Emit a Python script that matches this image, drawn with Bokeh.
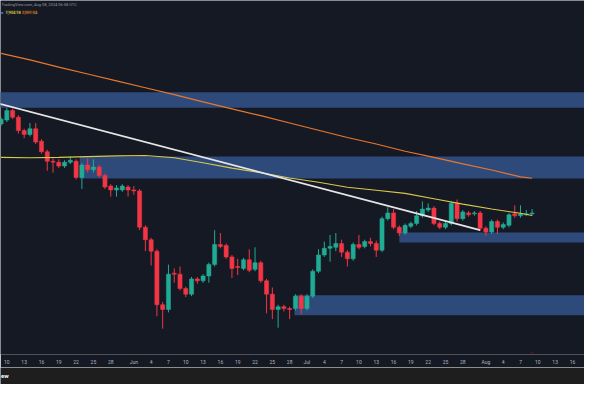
import pandas as pd
from bokeh.plotting import figure
from bokeh.models import Range1d, FixedTicker, Label, ColumnDataSource
from bokeh.layouts import column
from bokeh.embed import file_html
from bokeh.resources import INLINE

# ---------------- data ----------------
first_day = "2024-05-09"

opens = [2143.5, 2153.5, 2178.5, 2161, 2126, 2116, 2131, 2098.5, 2071, 2046,
         2043.5, 2033.5, 2043.5, 2046, 2003.5, 2036, 2023.5, 2031, 2008.5, 1981,
         1971, 1971, 1978.5, 1971, 1968.5, 1873.5, 1841, 1811, 1671, 1658.5,
         1753.5, 1751, 1713.5, 1698.5, 1738.5, 1733.5, 1746, 1776, 1828.5, 1826,
         1796, 1771, 1766, 1788.5, 1763.5, 1781, 1733.5, 1698.5, 1658.5, 1666,
         1661, 1661, 1693.5, 1661, 1693.5, 1758.5, 1801, 1818.5, 1821, 1831,
         1808.5, 1791, 1828.5, 1823.5, 1836, 1831, 1813.5, 1896, 1911, 1873.5,
         1858.5, 1876, 1883.5, 1903.5, 1918.5, 1923.5, 1883.5, 1873.5, 1883.5, 1936,
         1896, 1911, 1908.5, 1911, 1871, 1861, 1888.5, 1873.5, 1878.5, 1908.5,
         1903.5, 1906, 1908.5]
highs = [2161, 2186, 2183.5, 2166, 2131, 2146, 2146, 2103.5, 2076, 2053.5,
         2051, 2048.5, 2058.5, 2051, 2041, 2053.5, 2051, 2036, 2013.5, 1986,
         1983.5, 1986, 1983.5, 1981, 1973.5, 1878.5, 1846, 1816, 1678.5, 1776,
         1766, 1771, 1718.5, 1743.5, 1743.5, 1751, 1781, 1866, 1858.5, 1831,
         1801, 1791, 1793.5, 1816, 1821, 1786, 1738.5, 1716, 1671, 1671,
         1666, 1698.5, 1698.5, 1698.5, 1763.5, 1816, 1836, 1853.5, 1858.5, 1841,
         1813.5, 1833.5, 1853.5, 1841, 1846, 1838.5, 1901, 1926, 1921, 1878.5,
         1883.5, 1888.5, 1916, 1941, 1936, 1928.5, 1888.5, 1888.5, 1941, 1946,
         1918.5, 1916, 1916, 1916, 1876, 1893.5, 1893.5, 1886, 1911, 1931,
         1931, 1918.5, 1921]
lows = [2138.5, 2148.5, 2156, 2118.5, 2106, 2111, 2091, 2066, 2021, 2016,
        2028.5, 2028.5, 2038.5, 1998.5, 1973.5, 2016, 2016, 2003.5, 1973.5, 1953.5,
        1953.5, 1966, 1953.5, 1958.5, 1866, 1811, 1773.5, 1641, 1608.5, 1651,
        1728.5, 1708.5, 1691, 1693.5, 1726, 1728.5, 1728.5, 1771, 1818.5, 1791,
        1741, 1748.5, 1761, 1756, 1758.5, 1728.5, 1648.5, 1633.5, 1611, 1653.5,
        1633.5, 1656, 1646, 1656, 1688.5, 1753.5, 1796, 1783.5, 1811, 1796,
        1771, 1786, 1816, 1818.5, 1823.5, 1796, 1808.5, 1891, 1868.5, 1851,
        1853.5, 1871, 1878.5, 1898.5, 1913.5, 1878.5, 1868.5, 1868.5, 1878.5, 1888.5,
        1891, 1901, 1903.5, 1863.5, 1851, 1856, 1856, 1868.5, 1873.5, 1898.5,
        1898.5, 1903.5, 1903.5]
closes = [2156, 2178.5, 2161, 2126, 2116, 2131, 2096, 2071, 2046, 2043.5,
          2033.5, 2043.5, 2048.5, 2003.5, 2036, 2023.5, 2031, 2008.5, 1978.5, 1971,
          1976, 1981, 1971, 1968.5, 1873.5, 1841, 1811, 1671, 1658.5, 1751,
          1751, 1713.5, 1698.5, 1738.5, 1733.5, 1746, 1776, 1828.5, 1823.5, 1796,
          1766, 1768.5, 1788.5, 1761, 1781, 1733.5, 1698.5, 1658.5, 1666, 1661,
          1658.5, 1693.5, 1661, 1693.5, 1758.5, 1801, 1818.5, 1823.5, 1831, 1808.5,
          1791, 1828.5, 1821, 1836, 1831, 1813.5, 1896, 1911, 1873.5, 1858.5,
          1878.5, 1883.5, 1903.5, 1921, 1923.5, 1883.5, 1873.5, 1883.5, 1936, 1896,
          1913.5, 1906, 1911, 1871, 1861, 1888.5, 1873.5, 1881, 1906, 1903.5,
          1908.5, 1908.5, 1911]

ma_dates = ["2024-05-09", "2024-05-14", "2024-05-19", "2024-05-24", "2024-05-29",
            "2024-06-03", "2024-06-08", "2024-06-13", "2024-06-18", "2024-06-23",
            "2024-06-28", "2024-07-03", "2024-07-08", "2024-07-13", "2024-07-18",
            "2024-07-23", "2024-07-28", "2024-08-02", "2024-08-07", "2024-08-09"]
ma_fast = [2056, 2055, 2056, 2058, 2060, 2061, 2055, 2042, 2028, 2016,
           2002, 1991, 1978, 1970, 1962, 1948, 1934, 1921, 1910, 1904.18]
ma_slow = [2328, 2311, 2292, 2274, 2256, 2238, 2220, 2201, 2183, 2165,
           2146, 2127, 2108, 2091, 2072, 2056, 2039, 2023, 2005, 2001.54]

trend_dates = ["2024-05-01 00:00", "2024-07-31 00:00"]
trend_prices = [2227, 1866]

zone_starts = ["2024-04-20 00:00", "2024-05-22 15:00", "2024-07-17 00:00", "2024-06-28 20:00"]
zone_ends = ["2024-09-30 00:00", "2024-09-30 00:00", "2024-09-30 00:00", "2024-09-30 00:00"]
zone_tops = [2226, 2058.5, 1860, 1696]
zone_bottoms = [2186, 2001, 1833.5, 1643.5]

tick_dates = ["2024-05-10", "2024-05-13", "2024-05-16", "2024-05-19", "2024-05-22",
              "2024-05-25", "2024-05-28", "2024-06-01", "2024-06-04", "2024-06-07",
              "2024-06-10", "2024-06-13", "2024-06-16", "2024-06-19", "2024-06-22",
              "2024-06-25", "2024-06-28", "2024-07-01", "2024-07-04", "2024-07-07",
              "2024-07-10", "2024-07-13", "2024-07-16", "2024-07-19", "2024-07-22",
              "2024-07-25", "2024-07-28", "2024-08-01", "2024-08-04", "2024-08-07",
              "2024-08-10", "2024-08-13", "2024-08-16"]
tick_labels = ["10", "13", "16", "19", "22", "25", "28", "Jun", "4", "7",
               "10", "13", "16", "19", "22", "25", "28", "Jul", "4", "7",
               "10", "13", "16", "19", "22", "25", "28", "Aug", "4", "7",
               "10", "13", "16"]

header_text = "TradingView.com, Aug 08, 2024 06:58 UTC"
logo_text = "ew"

# ---------------- styling ----------------
BG = "#151924"
UP = "#22ab94"
DOWN = "#f23645"
DAY_MS = 86400000


def to_dt(seq):
    return [pd.Timestamp(s) for s in seq]


dates = pd.date_range(first_day, periods=len(opens), freq="D")
colors = [UP if c >= o else DOWN for o, c in zip(opens, closes)]
src = ColumnDataSource(dict(
    date=dates, open=opens, high=highs, low=lows, close=closes,
    top=[max(o, c) for o, c in zip(opens, closes)],
    bottom=[min(o, c) for o, c in zip(opens, closes)],
    color=colors,
))

p = figure(width=584, height=367, x_axis_type="datetime",
           x_range=Range1d(pd.Timestamp("2024-05-08 21:36"), pd.Timestamp("2024-08-18 02:00")),
           y_range=Range1d(1541, 2466),
           output_backend="svg", toolbar_location=None,
           min_border_left=0, min_border_right=0, min_border_top=0, min_border_bottom=12)
p.background_fill_color = BG
p.border_fill_color = BG
p.outline_line_color = None
p.grid.visible = False
p.yaxis.visible = False

# zones
p.quad(left=to_dt(zone_starts), right=to_dt(zone_ends),
       top=zone_tops, bottom=zone_bottoms,
       fill_color="#2e4a7a", fill_alpha=1.0, line_color=None)

# candles
p.segment(x0="date", y0="high", x1="date", y1="low", line_color="color",
          line_width=1, source=src)
p.vbar(x="date", width=0.72 * DAY_MS, top="top", bottom="bottom",
       fill_color="color", line_color="color", line_width=0.5, source=src)

# moving averages
p.line(to_dt(ma_dates), ma_slow, line_color="#e8772e", line_width=1.2)
p.line(to_dt(ma_dates), ma_fast, line_color="#d9c84a", line_width=1.1)

# trend line
p.line(to_dt(trend_dates), trend_prices, line_color="#e6e6e6", line_width=1.6)

# x axis
tick_ms = [float(pd.Timestamp(d).value // 10**6) for d in tick_dates]
p.xaxis.ticker = FixedTicker(ticks=tick_ms)
p.xaxis.major_label_overrides = {t: lab for t, lab in zip(tick_ms, tick_labels)}
p.xaxis.major_label_text_color = "#b2b5be"
p.xaxis.major_label_text_font_size = "5px"
p.xaxis.major_label_text_font = "Roboto"
p.xaxis.major_tick_line_color = None
p.xaxis.minor_tick_line_color = None
p.xaxis.major_tick_out = 0
p.xaxis.major_tick_in = 0
p.xaxis.axis_line_color = None
p.xaxis.major_label_standoff = 4

# header
p.add_layout(Label(x=1, y=350, x_units="screen", y_units="screen", text=header_text,
                   text_font_size="4px", text_font="Roboto", text_color="#9598a1",
                   text_baseline="middle"))
p.add_layout(Label(x=0.5, y=342.5, x_units="screen", y_units="screen", text="■",
                   text_font_size="4px", text_color="#3d6fd6", text_baseline="middle"))
p.add_layout(Label(x=5, y=342.5, x_units="screen", y_units="screen",
                   text=f"{ma_fast[-1]:,.2f}", text_font_size="4px", text_font="Roboto",
                   text_color="#e3d35a", background_fill_color="#3f4223",
                   text_baseline="middle"))
p.add_layout(Label(x=21.5, y=342.5, x_units="screen", y_units="screen",
                   text=f"{ma_slow[-1]:,.2f}", text_font_size="4px", text_font="Roboto",
                   text_color="#f08a3e", background_fill_color="#43301f",
                   text_baseline="middle"))

# event marker at the last bar
p.add_layout(Label(x=531, y=2, x_units="screen", y_units="screen", text="○",
                   text_font_size="6px", text_color="#c2185b", text_align="center",
                   text_baseline="middle", text_font_style="bold"))

# bottom logo bar
bar = figure(width=584, height=17, x_range=Range1d(0, 1), y_range=Range1d(0, 1),
             output_backend="svg", toolbar_location=None,
             min_border_left=0, min_border_right=0, min_border_top=0, min_border_bottom=0)
bar.axis.visible = False
bar.grid.visible = False
bar.background_fill_color = "#1e1e1e"
bar.border_fill_color = "#1e1e1e"
bar.outline_line_color = None
bar.add_layout(Label(x=0.5, y=9, x_units="screen", y_units="screen", text=logo_text,
                     text_align="left", text_baseline="middle", text_color="#ffffff",
                     text_font_style="bold", text_font_size="6px", text_font="Roboto"))

layout = column(p, bar, spacing=0)
open("out.html", "w").write(file_html(layout, INLINE))
